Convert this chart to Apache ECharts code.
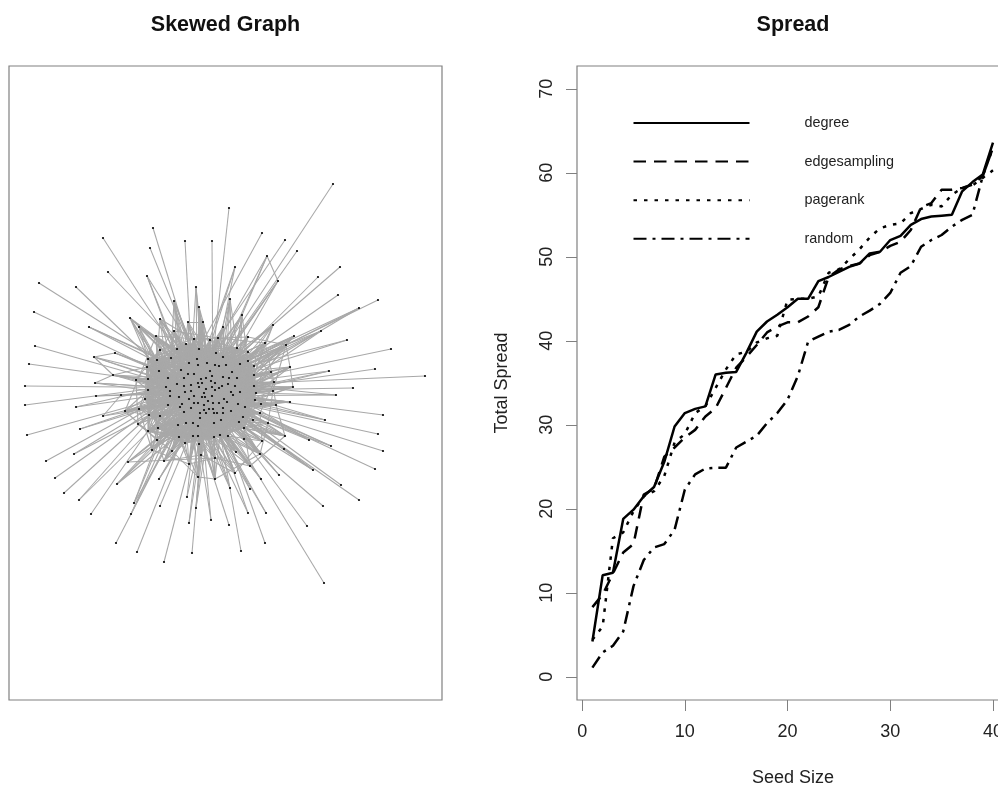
<!DOCTYPE html>
<html><head><meta charset="utf-8">
<style>html,body{margin:0;padding:0;background:#fff;overflow:hidden}#c{width:998px;height:787px}</style>
<script src="https://cdn.jsdelivr.net/npm/echarts@6/dist/echarts.min.js"></script>
</head><body><div id="c"></div>
<script>
// ---- Spread panel data
const seedSize = [1,2,3,4,5,6,7,8,9,10,11,12,13,14,15,16,17,18,19,20,21,22,23,24,25,26,27,28,29,30,31,32,33,34,35,36,37,38,39,40];
const degree = [4.2,12.1,12.4,18.8,19.9,21.5,22.6,25.6,29.8,31.4,31.9,32.2,36,36.2,36.3,38.6,41.1,42.3,43.1,44,45,45,47.1,47.6,48.2,48.8,49.2,50.4,50.6,52,52.5,53.8,54.5,54.8,54.9,55,57.8,58.9,59.8,63.6];
const edgesampling = [8.3,9.8,12.3,14.8,15.8,21.7,22.4,26.2,27.3,28.5,29.4,31,32,34.4,36.8,38.1,39.5,41,41.7,42.2,42.2,42.9,44,47.6,48.5,48.9,49.2,50.2,50.6,51.3,51.8,53.2,55.9,56.4,58,58,58.2,58.6,59.6,63];
const pagerank = [4.4,6,16.5,17.2,19.7,21.5,22.1,23.9,27.9,28.9,31.4,32.2,34.4,36.6,38.4,38.7,39.8,40.3,40.6,44.9,45,45,45.3,48.1,48.5,49.7,50.9,52.3,53.4,53.8,54,55.2,55.7,56.2,56,57.4,58.2,58.5,59.4,60.3];
const random = [1.1,2.9,3.7,5.4,10.8,13.9,15.4,15.8,17.5,22.3,24.1,24.8,24.9,24.9,27.3,28,28.7,30.2,31.4,33,35.8,39.9,40.5,41.1,41.3,41.9,42.9,43.6,44.4,45.7,48.1,48.9,51.2,52,52.6,53.6,54.4,55,59.6,63];
const xTicks = [0,10,20,30,40];
const yTicks = [0,10,20,30,40,50,60,70];

// ---- Skewed Graph data: node layout positions
const graphNodes = [
[174,301],[199,307],[230,299],[242,315],[130,318],[139,327],[160,319],[188,322],[203,322],[223,327],
[273,325],[294,336],[286,345],[265,343],[248,337],[218,338],[210,340],[194,339],[174,331],[156,336],
[186,344],[199,349],[177,349],[160,350],[148,359],[157,360],[171,358],[216,353],[223,357],[237,348],
[248,352],[189,363],[197,359],[207,363],[198,365],[215,365],[219,366],[226,365],[240,364],[254,366],
[248,361],[271,372],[290,367],[147,367],[159,371],[181,370],[188,374],[194,374],[210,371],[232,372],
[254,375],[168,378],[184,378],[212,376],[223,377],[229,378],[237,378],[148,379],[136,380],[113,375],
[274,382],[293,387],[273,391],[254,386],[256,393],[240,392],[177,384],[191,385],[184,386],[198,383],
[201,379],[206,378],[211,381],[202,383],[215,383],[222,386],[228,384],[235,386],[166,387],[148,390],
[170,391],[185,392],[191,391],[199,387],[206,389],[212,387],[219,388],[215,390],[231,392],[121,395],
[145,399],[170,396],[179,397],[189,399],[194,396],[204,393],[202,397],[205,397],[212,396],[224,399],
[233,395],[255,400],[261,404],[276,405],[290,402],[139,409],[125,411],[168,405],[182,404],[194,403],
[198,403],[208,401],[213,403],[219,403],[227,402],[238,404],[180,407],[191,408],[204,405],[209,409],
[213,409],[223,408],[231,411],[245,407],[103,416],[149,415],[160,416],[184,412],[200,413],[206,413],
[204,410],[214,413],[217,413],[223,413],[200,418],[221,420],[243,417],[260,413],[138,424],[186,423],
[193,423],[198,426],[214,423],[178,425],[239,422],[253,420],[268,423],[244,428],[158,428],[148,431],
[179,437],[157,440],[193,436],[198,436],[214,437],[220,435],[228,436],[244,439],[285,436],[309,440],
[262,441],[185,443],[199,444],[152,450],[172,451],[236,452],[260,454],[284,449],[201,455],[215,458],
[164,461],[128,462],[189,464],[250,466],[313,470],[279,475],[235,473],[198,477],[215,479],[159,479],
[261,479],[117,484],[230,488],[250,489],[39,283],[76,287],[103,238],[108,272],[153,228],[150,248],
[185,241],[212,241],[229,208],[147,276],[34,312],[89,327],[196,287],[235,267],[35,346],[29,364],
[94,357],[115,353],[95,383],[25,386],[333,184],[262,233],[285,240],[297,251],[267,256],[278,281],
[318,277],[340,267],[338,295],[378,300],[359,308],[321,331],[347,340],[391,349],[375,369],[329,371],
[425,376],[353,388],[25,405],[76,407],[96,396],[27,435],[80,429],[46,461],[74,454],[55,478],
[64,493],[79,500],[91,514],[134,503],[131,514],[160,506],[116,543],[137,552],[164,562],[192,553],
[189,523],[196,508],[187,497],[211,520],[229,525],[383,415],[336,395],[325,420],[378,434],[383,451],
[331,446],[375,469],[341,485],[359,500],[323,506],[266,513],[248,513],[307,526],[265,543],[241,551],
[324,583]
];
// Each row: a node followed by the nodes it is joined to
const spokeLinks = [
[184,84],[185,81],[186,83],[187,72],[188,97],[189,112],[190,109],[191,120],[192,111],[193,99,94,134],
[194,95],[195,88,75,115],[196,129,119,93,141],[197,111,94,127],[198,98],[199,88],[200,65,99,114],[201,115,100,87],[202,65,88,114],[203,86],
[204,48],[205,107],[206,92],[207,127],[208,116,118,140,209],[209,109,143,127,161],[210,127],[211,108],[212,93],[213,92],
[214,91,107,117],[215,80,126,92,139],[216,78,91],[217,81],[218,92],[219,80,107,125],[220,78],[221,80],[222,72],[223,75,53],
[224,87,65],[225,74],[226,55,76],[227,48],[228,54,36],[229,35],[230,33],[231,34,48],[232,32],[233,8,35,46],
[234,47,33],[235,36],[236,70],[237,71],[238,53],[239,84],[240,95,72],[241,97,111,87],[242,85,83],[243,82,69],
[244,68],[245,78],[246,51,91,80],[247,66,78,44],[248,81],[249,82],[250,84,67,94],[251,83],[252,46],[253,52],
[254,68],[255,45,46],[256,70,52],[257,73],[258,71],[259,85],[260,73]
];
const ringLinks = [
[0,81,109,98,84,93],[1,85,95,119,110,112],[2,74,84],[3,82,67,117],[4,87,75,95],[5,54,76,88,98],[6,27,84,86,112],[7,53,54,8,84],[8,98,93,81],[9,67,92,109],
[10,108,92,93],[11,91,80,107],[12,80,107,125,42],[13,66,78,116],[14,81,108],[15,141,128,118],[16,139,116,153],[17,142,111,120],[18,99,120,133],[19,88,86,113],
[30,127,108,116,92],[41,91,107,80,92],[42,80,51,91,61],[60,91,78,66,107],[61,68,81,66,92],[62,80,92,93],[102,92,80,108],[103,91,81,66],[104,80,78,81],[137,66,92,108],
[145,81,94,83],[146,82,67,81],[158,85,84,96],[159,72,84,97],[160,83,95],[165,82,93],[166,72,84,83,95],[167,84,97,73],[168,96,84,118],[169,83,69,94],
[170,119,98,111],[171,100,87,98,169],[172,118,97,110],[173,82,94,67],[174,94,67,84,83],[175,95,84,73],[176,83,93,95],[177,97,118,69],[178,85,69,73],[179,111,86,74],
[180,82,67,94,83],[181,86,72,85,99],[182,96,93,110],[183,69,82],[163,100,86,99],[151,99,87,114],[164,74,87,113],[106,85,98,100,65],[105,98,84],[89,65,86,76,124],
[124,100,86],[58,100,99],[59,88,86,200,202],[200,201]
];
const coreLinks = [
[20,147,156,154,64,101,152,139,123],[21,144,155,150,143,136,101,117,141],[27,153,150,148,125,161,139,154,143],[28,152,149,126,90,116,143,139,125],
[29,161,148,79,25,108,90,149,117],[40,150,125,57,44,90,127,79,143],[39,148,90,43,51,57,105,125,116],[50,149,79,24,25,57,91,126,107],
[63,105,90,43,26,44,24,126,148],[64,57,24,25,22,51,79,107,78],[101,43,26,22,20,79,57,25,66],[123,24,22,26,20,44,45,31,51],
[136,43,25,20,21,22,31,44,46],[147,24,22,21,26,45,32,31,47],[144,44,20,21,34,45,46,22,25],[156,22,27,21,20,33,31,26,32],
[155,26,20,28,21,32,45,31,44],[154,25,21,29,28,34,31,46,36],[153,22,28,40,29,27,35,33,37],[152,20,29,39,40,28,37,36,38],
[150,27,40,50,39,29,38,49,37],[161,36,50,63,39,40,55,49,56],[143,28,39,64,50,63,56,76,38],[139,28,63,101,64,40,77,88,55],
[148,29,64,123,101,63,65,100,88],[149,40,101,136,123,64,114,99,115],[125,39,123,147,136,101,115,100,114],[90,50,136,144,147,123,122,121,113],
[79,63,147,156,144,136,133,135,122],[57,64,144,155,156,147,142,135,121],[43,101,156,154,155,144,131,142,128],[24,123,155,153,154,156,141,134,142],
[25,136,154,152,153,155,140,141,128],[26,144,153,150,152,154,139,140,134]
];
const rimLinks = [
[20,28,29,40,39,50],[21,29,40,39,50,63],[27,40,39,50,63,64],[28,39,50,63,64,101],[29,50,63,64,101,123],
[40,63,64,101,123,136],[39,64,101,123,136,147],[50,101,123,136,147,144],[63,123,136,147,144,156],[64,136,147,144,156,155],
[101,147,144,156,155,154],[123,144,156,155,154,153],[136,156,155,154,153,152],[147,155,154,153,152,150],[144,154,153,152,150,161],
[156,153,152,150,161,143],[155,152,150,161,143,139],[154,150,161,143,139,148],[153,161,143,139,148,149],[152,143,139,148,149,125],
[150,139,148,149,125,90],[161,148,149,125,90,79],[143,149,125,90,79,57],[139,125,90,79,57,43],[148,90,79,57,43,24],
[149,79,57,43,24,25],[125,57,43,24,25,26],[90,43,24,25,26,22],[79,24,25,26,22,20],[57,25,26,22,20,21],
[43,26,22,20,21,27],[24,22,20,21,27,28],[25,20,21,27,28,29],[26,21,27,28,29,40],[22,27,28,29,40,39]
];
const fringeLinks = [
[17,45,32,34,46,47,35],[18,31,45,26,52,46,47],[19,44,51,26,25,66,52],[15,33,35,36,37,70,71],[16,32,34,33,48,73,71],
[9,35,36,37,33,54],[8,32,34,33,35,70],[7,31,32,34,45,46],[6,25,26,45,31,51],[0,26,31,32,22],[1,21,33,34,35],
[14,37,38,49,54,55],[30,38,49,55,56,54],[13,38,40,50,56,49],[12,39,50,56,63,77],[41,50,56,63,77,65],[42,63,65,88,64,100],
[60,63,65,64,77,100],[62,64,65,100,88,115],[61,64,101,100,115,65],[104,101,102,115,100,123],[103,101,123,115,122,114],
[102,115,122,123,114,136],[137,122,136,123,133,135],[145,123,136,144,135,121],[146,136,144,147,135,133],[158,147,144,135,133,142],
[160,144,147,156,135,142],[166,147,156,155,142,135],[165,156,155,154,142,135],[173,156,155,147,142,141],[176,155,154,153,142,141],
[178,154,153,155,141,142],[169,153,154,152,141,134],[168,152,153,141,134,140],[177,152,150,153,140,141],[172,161,150,152,140,139],
[170,150,143,139,127,161],[164,150,143,139,127,116],[163,148,143,125,126,127],[151,126,148,125,143,116],[138,125,126,149,107,116],
[105,125,90,107,126,91],[106,90,79,91,107,125],[58,79,57,78,80,66],[59,57,43,78,80,51],[23,43,44,51,57,66],[4,24,25,44,51],
[5,24,25,26,44],[2,28,29,37,49],[3,38,40,29,49],[10,40,39,50,38],[11,50,63,39,40]
];
const crossLinks = [
[66,27,28,29,40,50,63,64,123,136,147,156],[68,21,29,39,64,147,155,153],[81,28,40,63,101,144,154],[82,21,50,136,152,150,143],
[93,20,27,39,123,155,161],[94,22,29,64,147,153,139],[109,26,28,50,101,154,148],[110,25,21,40,123,152,125],[108,24,27,39,64,136,156],
[116,43,20,29,63,144,155],[117,57,22,28,50,147,153],[127,79,26,21,40,101,154],[140,90,25,20,39,64,136],[141,125,24,22,27,63,123],
[134,149,43,26,28,50,101],[128,148,57,44,29,39,64],[129,139,79,51,21,40,63],[131,143,90,66,20,28,50],[132,161,125,78,31,29,39],
[135,150,149,80,45,21,38],[121,152,148,91,52,33,37],[113,153,139,92,46,27,49],[99,154,143,107,67,35,55],[88,155,161,126,68,36,56],
[65,156,150,127,81,71,48],[77,147,152,116,82,53,72],[76,144,153,139,83,70,69],[55,136,154,140,93,73,47],[54,123,155,141,94,84,67],
[37,101,156,142,117,85,52],[35,64,147,134,127,95,68],[33,63,144,128,108,96,66],[34,50,136,129,116,111,80],[31,39,123,131,107,118,78],
[45,40,101,132,126,119,51],[44,29,64,133,148,120,91],[51,28,63,135,125,130,92],[78,27,50,147,149,98,93]
];
const annulusLinks = [
[17,14],[16,30],[15,13],[14,12],[30,41],[13,60],[12,62],[41,103],[60,137],[62,146],[103,158],[137,160],[146,166],[158,173],[160,176],[166,178],[173,169],
[176,168],[178,177],[169,172],[168,170],[177,164],[172,163],[170,151],[164,138],[163,105],[151,106],[138,58],[105,23],[106,19],[58,18],[23,17],[19,16],[18,15]
];

const graphEdges = [];
[spokeLinks, ringLinks, coreLinks, rimLinks, fringeLinks, crossLinks, annulusLinks].forEach(rows => rows.forEach(row => {
  row.slice(1).forEach(t => graphEdges.push({source: row[0], target: t}));
}));

const FONT = '"Liberation Sans", Arial, sans-serif';
const pair = ys => seedSize.map((x, i) => [x, ys[i]]);
const curve = (name, ys, type) => ({
  name, type: 'line', xAxisIndex: 1, yAxisIndex: 1, data: pair(ys), symbol: 'none', smooth: false,
  lineStyle: {color: '#000', width: 2.5, type, cap: 'butt'}, itemStyle: {color: '#000'}, silent: true, z: 3
});
const boxColor = '#808080';
const tick = {show: true, length: 11, lineStyle: {color: '#808080', width: 1}};

const chart = echarts.init(document.getElementById('c'), null, {renderer: 'canvas'});
chart.setOption({
  animation: false,
  backgroundColor: '#fff',
  title: [
    {text: 'Skewed Graph', left: 220.5, top: 9, textAlign: 'center', textStyle: {fontFamily: FONT, fontWeight: 'bold', fontSize: 21.5, color: '#111'}},
    {text: 'Spread', left: 788, top: 9, textAlign: 'center', textStyle: {fontFamily: FONT, fontWeight: 'bold', fontSize: 21.5, color: '#111'}}
  ],
  grid: [
    {left: 9, top: 66, width: 433, height: 634, show: true, borderColor: boxColor, borderWidth: 1.2, backgroundColor: '#fff', outerBoundsMode: 'none'},
    {left: 577, top: 66, width: 432, height: 634, show: true, borderColor: boxColor, borderWidth: 1.2, backgroundColor: '#fff', outerBoundsMode: 'none'}
  ],
  xAxis: [
    {gridIndex: 0, type: 'value', min: 9, max: 442, show: false},
    {gridIndex: 1, type: 'value', min: -0.5, max: 41.56, splitLine: {show: false}, axisLine: {show: false, onZero: false},
     axisTick: Object.assign({customValues: xTicks}, tick),
     axisLabel: {customValues: xTicks, margin: 23, fontFamily: FONT, fontSize: 18, color: '#222', hideOverlap: false, formatter: v => String(v)},
     name: 'Seed Size', nameLocation: 'middle', nameGap: 69,
     nameTextStyle: {fontFamily: FONT, fontSize: 18, color: '#222'}}
  ],
  yAxis: [
    {gridIndex: 0, type: 'value', min: 66, max: 700, inverse: true, show: false},
    {gridIndex: 1, type: 'value', min: -2.76, max: 72.72, splitLine: {show: false}, axisLine: {show: false, onZero: false},
     axisTick: Object.assign({customValues: yTicks}, tick),
     axisLabel: {customValues: yTicks, rotate: 90, margin: 30, fontFamily: FONT, fontSize: 18, color: '#222', hideOverlap: false, formatter: v => String(v), verticalAlign: 'middle'},
     name: 'Total Spread', nameLocation: 'middle', nameGap: 66, nameRotate: 90,
     nameTextStyle: {fontFamily: FONT, fontSize: 18, color: '#222'}}
  ],
  legend: {
    left: 632.5, top: 116, orient: 'vertical', itemWidth: 116, itemHeight: 14, itemGap: 24.6, padding: 0,
    data: ['degree', 'edgesampling', 'pagerank', 'random'], selectedMode: false,
    itemStyle: {color: 'rgba(0,0,0,0)', borderWidth: 0, opacity: 0},
    textStyle: {fontFamily: FONT, fontSize: 14.4, color: '#222', padding: [9, 0, 0, 50]}
  },
  series: [
    {type: 'graph', layout: 'none', coordinateSystem: 'cartesian2d', xAxisIndex: 0, yAxisIndex: 0,
     data: graphNodes, links: graphEdges, symbol: 'circle', symbolSize: 2.2, silent: true, roam: false,
     itemStyle: {color: '#000', opacity: 1}, label: {show: false}, edgeSymbol: ['none', 'none'],
     lineStyle: {color: '#a8a8a8', width: 1.05, opacity: 1, curveness: 0}, z: 2},
    curve('degree', degree, 'solid'),
    curve('edgesampling', edgesampling, [12.5, 8]),
    curve('pagerank', pagerank, [3.5, 7]),
    curve('random', random, [13, 6, 3, 6])
  ]
});
</script></body></html>
